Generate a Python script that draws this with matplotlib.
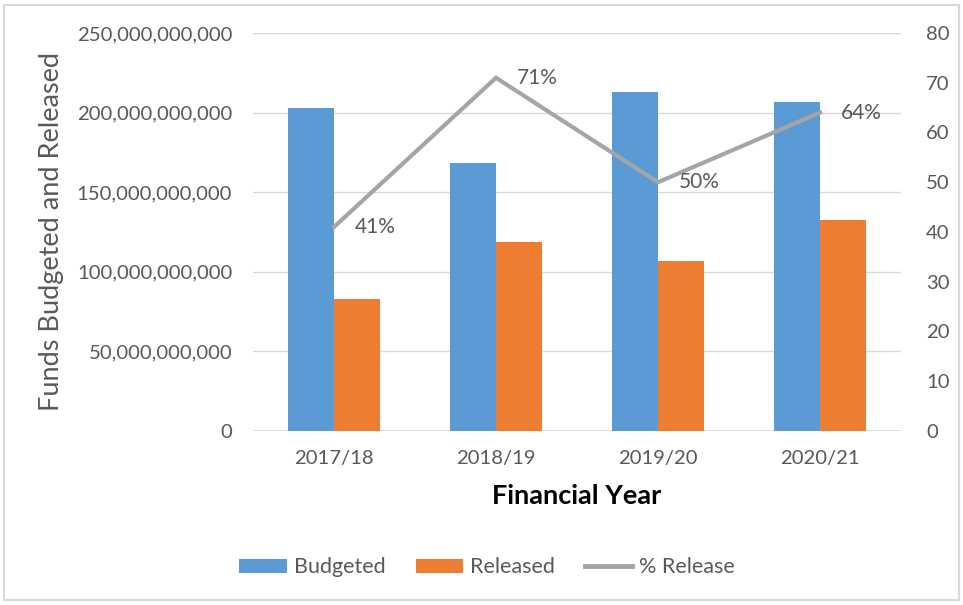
import matplotlib
matplotlib.use("Agg")
import matplotlib.pyplot as plt
from matplotlib.lines import Line2D
from matplotlib.patches import Patch, Rectangle
from matplotlib.ticker import FuncFormatter
import numpy as np

plt.rcParams["font.family"] = ["Lato", "DejaVu Sans"]

years = ["2017/18", "2018/19", "2019/20", "2020/21"]
budgeted = [202.9e9, 168.3e9, 212.9e9, 206.7e9]
released = [82.9e9, 118.7e9, 106.8e9, 132.5e9]
pct_release = [41, 71, 50, 64]

BLUE = "#5B9BD5"
ORANGE = "#ED7D31"
GREY = "#A5A5A5"
TEXT = "#595959"


def remove_plot_border(ax):
    for side in ["top", "right", "bottom", "left"]:
        ax.spines[side].set_visible(False)


fig = plt.figure(figsize=(9.63, 6.05), dpi=100)
ax = fig.add_axes([0.2627, 0.2876, 0.6729, 0.6579])

x = np.arange(len(years))
width = 0.285
ax.bar(x - width / 2, budgeted, width, color=BLUE, zorder=2)
ax.bar(x + width / 2, released, width, color=ORANGE, zorder=2)

ax.set_xlim(-0.5, len(years) - 0.5)
ax.set_ylim(0, 250e9)
ax.set_yticks(np.arange(0, 250e9 + 1, 50e9))
ax.yaxis.set_major_formatter(FuncFormatter(lambda v, p: f"{v:,.0f}"))
ax.grid(axis="y", color="#D9D9D9", linewidth=1, zorder=0)
ax.set_xticks(x)
ax.set_xticklabels(years)
ax.tick_params(axis="both", length=0, labelsize=14.6, labelcolor=TEXT)
ax.tick_params(axis="y", pad=15)
ax.tick_params(axis="x", pad=14)
remove_plot_border(ax)
ax.axhline(0, color="#D9D9D9", linewidth=1.2, zorder=1)

ax.set_xlabel("Financial Year", fontsize=19.5, fontweight="bold", color="black", labelpad=12)
ax.set_ylabel("Funds Budgeted and Released", fontsize=19.5, color=TEXT, labelpad=9)

ax2 = ax.twinx()
ax2.set_ylim(0, 80)
ax2.set_yticks(np.arange(0, 81, 10))
ax2.tick_params(axis="y", length=0, labelsize=14.6, labelcolor=TEXT, pad=18)
remove_plot_border(ax2)
ax2.plot(x, pct_release, color=GREY, linewidth=3, solid_joinstyle="miter", zorder=3)
for xi, p in zip(x, pct_release):
    ax2.annotate(f"{p}%", (xi, p), xytext=(15, 0), textcoords="offset points",
                 ha="left", va="center", fontsize=15, color=TEXT)

handles = [
    Patch(facecolor=BLUE, label="Budgeted"),
    Patch(facecolor=ORANGE, label="Released"),
    Line2D([0], [0], color=GREY, linewidth=3.5, label="% Release"),
]
leg = fig.legend(handles=handles, loc="center", bbox_to_anchor=(0.506, 0.062), ncol=3,
                 frameon=False, fontsize=15.5, handlelength=2.2, handleheight=0.6,
                 columnspacing=1.4, handletextpad=0.33)
for t in leg.get_texts():
    t.set_color(TEXT)

fig.patches.append(Rectangle((0.004, 0.008), 0.992, 0.984, transform=fig.transFigure,
                             fill=False, edgecolor="#D9D9D9", linewidth=1.5))

fig.savefig("out.png", dpi=100, facecolor="white")
